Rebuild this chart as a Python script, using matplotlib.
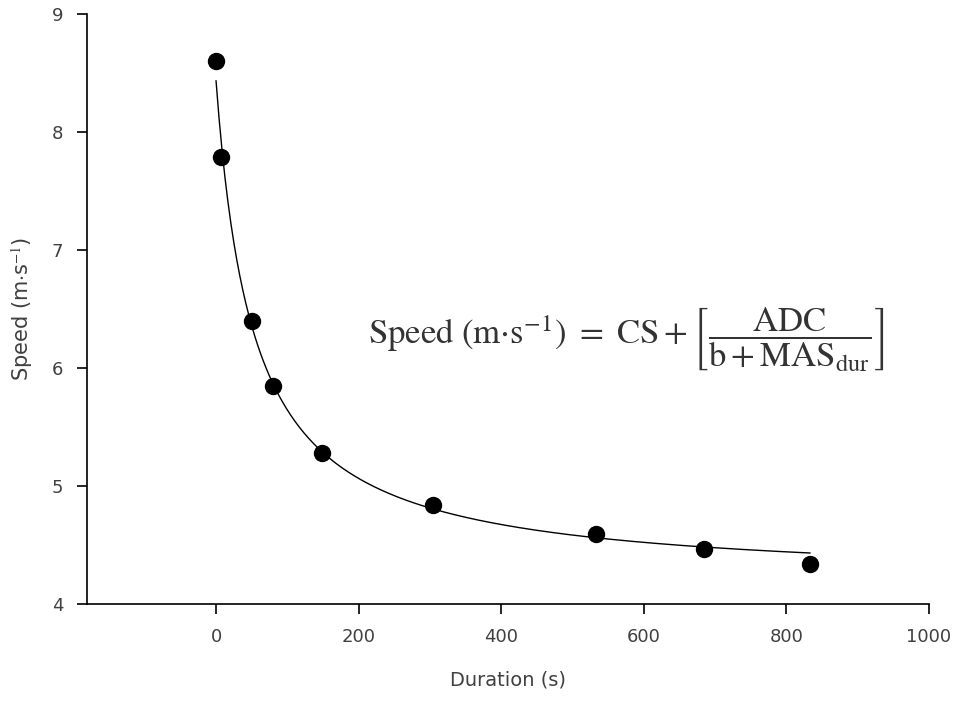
import numpy as np
import matplotlib
matplotlib.use("Agg")
import matplotlib.pyplot as plt

# Observed data points
duration = [0, 7, 50, 80, 148, 305, 533, 685, 833]
speed = [8.60, 7.79, 6.40, 5.85, 5.28, 4.84, 4.59, 4.47, 4.34]

# Fitted hyperbolic model parameters
CS = 4.18
ADC = 223.3
b = 52.5

x_ticks = [0, 200, 400, 600, 800, 1000]
y_ticks = [4, 5, 6, 7, 8, 9]

plt.rcParams['mathtext.fontset'] = 'stix'

fig = plt.figure(figsize=(9.59, 7.01), dpi=100)
ax = fig.add_axes([87/959, 1-604/701, (929-87)/959, (604-14)/701])

t = np.linspace(0, max(duration), 400)
ax.plot(t, CS + ADC / (b + t), color='black', lw=1.0)
ax.plot(duration, speed, 'o', color='black', ms=11.5)

ax.set_xlim(-181, 1000)
ax.set_ylim(4, 9)
ax.set_xticks(x_ticks)
ax.set_yticks(y_ticks)
for s in ['top', 'right']:
    ax.spines[s].set_visible(False)
for s in ['left', 'bottom']:
    ax.spines[s].set_linewidth(1.2)
ax.tick_params(direction='out', length=7, width=1.2, labelsize=13,
               labelcolor='#404040', pad=10)

ax.set_xlabel('Duration (s)', fontsize=14, color='#404040', labelpad=18)
ax.set_ylabel(r'Speed (m$\cdot$s$^{-1}$)', fontsize=15, color='#404040', labelpad=12)

ax.text(576, 6.24,
        r'$\mathrm{Speed\ (m{\cdot}s^{-1})\ =\ CS + \left[\dfrac{ADC}{b + MAS_{dur}}\right]}$',
        fontsize=25, color='#333333', ha='center', va='center')

fig.savefig('out.png', dpi=100)
